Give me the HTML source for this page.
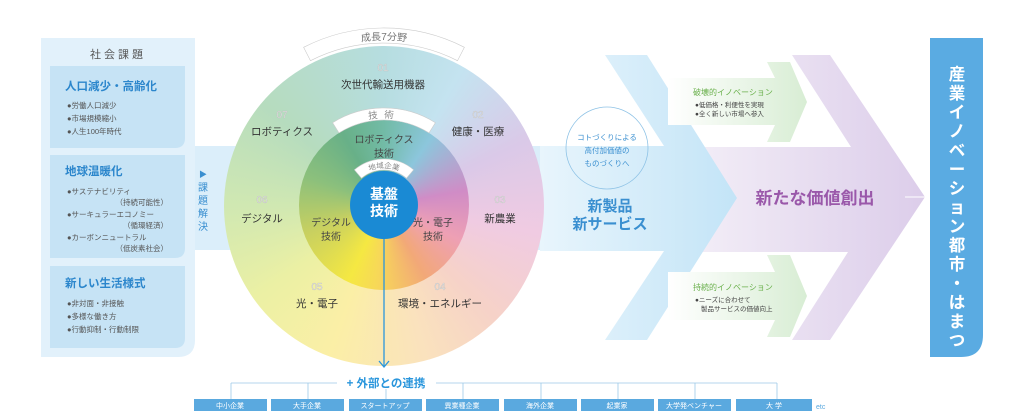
<!DOCTYPE html>
<html><head><meta charset="utf-8"><style>
html,body{margin:0;padding:0;background:#fff;width:1024px;height:419px;overflow:hidden}
body{position:relative;font-family:"Liberation Sans","Noto Sans CJK JP",sans-serif}
.abs{position:absolute}
.c1{left:224px;top:46px;width:320px;height:320px;border-radius:50%;
background:conic-gradient(from 0deg,#b6dde0 0deg,#c4e3f0 30deg,#dac9e8 65deg,#f0cbe2 100deg,#f6d2c8 135deg,#fae2bd 165deg,#fbefa6 200deg,#ebf0a4 235deg,#d0e8b2 270deg,#b6dcbe 310deg,#b6dde0 360deg)}
.c2{left:299px;top:120px;width:170px;height:170px;border-radius:50%;
background:conic-gradient(from 0deg,#72bba6 0deg,#8cc6dc 35deg,#d08cc6 80deg,#eea0b4 115deg,#f2a878 150deg,#f7d858 185deg,#f5e842 205deg,#c8d060 250deg,#8cc07c 290deg,#68b088 330deg,#72bba6 360deg)}
</style></head><body>
<svg class="abs" style="left:0;top:0" width="1024" height="419">
<defs>
<linearGradient id="gb" x1="0" x2="1"><stop offset="0" stop-color="#e8f5fc"/><stop offset="1" stop-color="#c3e4f7"/></linearGradient>
<linearGradient id="gp" gradientUnits="userSpaceOnUse" x1="690" x2="925" y1="0" y2="0"><stop offset="0" stop-color="#f3eef7"/><stop offset="1" stop-color="#dccdea"/></linearGradient>
<linearGradient id="gg" x1="0" x2="1"><stop offset="0" stop-color="#ffffff"/><stop offset="1" stop-color="#d8edd4"/></linearGradient>
</defs>
<path d="M41,38 H195 V340 Q195,357 178,357 H41 Z" fill="#e2f1fb"/>
<path d="M50,66 H185 V138 Q185,148 175,148 H50 Z" fill="#c6e3f5"/>
<path d="M50,155 H185 V248 Q185,258 175,258 H50 Z" fill="#c6e3f5"/>
<path d="M50,266 H185 V338 Q185,348 175,348 H50 Z" fill="#c6e3f5"/>
<rect x="195" y="146" width="475" height="104" fill="#dbeefa"/>
<path d="M690,147 H851 L792,55 H830 L925,197 L830,340 H792 L848,252 H690 Z" fill="url(#gp)"/>
<line x1="905" y1="197" x2="925" y2="197" stroke="#fff" stroke-width="1"/>
<path d="M540,146 H664 L605,55 H647 L737,198 L647,340 H605 L664,251 H540 Z" fill="url(#gb)"/>
<path d="M668,78 H775 L767,62 H790 L807,102 L790,142 H767 L775,125 H668 Z" fill="url(#gg)"/>
<path d="M668,272 H775 L767,255 H790 L807,296 L790,337 H767 L775,320 H668 Z" fill="url(#gg)"/>
<path d="M930,38 H983 V335 Q983,357 961,357 H930 Z" fill="#5aabe2"/>
<circle cx="607" cy="148" r="41" fill="none" stroke="#8fc3e6" stroke-width="0.8"/>
</svg>
<div class="abs c1"></div>
<div class="abs c2"></div>
<svg class="abs" style="left:0;top:0" width="1024" height="419" font-family="Liberation Sans, Noto Sans CJK JP, sans-serif">
<defs>
<path id="t1" d="M309.1,58 A165,165 0 0 1 458.9,58"/>
<path id="t2" d="M337.9,131.2 A87,87 0 0 1 430.1,131.2"/>
<path id="t3" d="M360.2,176.7 A37,37 0 0 1 407.8,176.7"/>
</defs>
<path d="M303.6,47.3 A177,177 0 0 1 464.4,47.3 L457.5,60.7 A162,162 0 0 0 310.5,60.7 Z" fill="#fff" stroke="#ccc" stroke-width="0.6"/>
<path d="M332.6,122.7 A97,97 0 0 1 435.4,122.7 L429,132.9 A85,85 0 0 0 339,132.9 Z" fill="#fff" stroke="#ccc" stroke-width="0.6"/>
<path d="M354.4,169.8 A46,46 0 0 1 413.6,169.8 L406.5,178.2 A35,35 0 0 0 361.5,178.2 Z" fill="#fff" stroke="#ccc" stroke-width="0.6"/>
<text font-size="10" fill="#777"><textPath href="#t1" startOffset="50%" text-anchor="middle">成長7分野</textPath></text>
<text font-size="9.5" fill="#888" letter-spacing="6"><textPath href="#t2" startOffset="50%" text-anchor="middle">技術</textPath></text>
<text font-size="7.5" fill="#888"><textPath href="#t3" startOffset="50%" text-anchor="middle">地域企業</textPath></text>
<circle cx="384" cy="205" r="34" fill="#1a8ad4"/>
<line x1="384" y1="239" x2="384" y2="366" stroke="#2a96dc" stroke-width="1.3"/>
<polyline points="379,361 384,367 389,361" fill="none" stroke="#2a96dc" stroke-width="1.3"/>
<g font-weight="bold" font-size="14" fill="#fff" text-anchor="middle"><text x="384" y="199">基盤</text><text x="384" y="216">技術</text></g>
<g font-size="10" fill="#e6e6e6" stroke="#bbb" stroke-width="0.3" text-anchor="middle">
<text x="383" y="71">01</text><text x="478" y="118">02</text><text x="500" y="203">03</text><text x="440" y="290">04</text><text x="317" y="290">05</text><text x="262" y="203">06</text><text x="282" y="118">07</text></g>
<g font-size="10.5" fill="#333" text-anchor="middle">
<text x="383" y="88">次世代輸送用機器</text><text x="478" y="135">健康・医療</text><text x="500" y="222">新農業</text>
<text x="440" y="307">環境・エネルギー</text><text x="317" y="307">光・電子</text><text x="262" y="222">デジタル</text><text x="282" y="135">ロボティクス</text></g>
<g font-size="10" fill="#444" text-anchor="middle">
<text x="384" y="143">ロボティクス</text><text x="384" y="157">技術</text>
<text x="331" y="226">デジタル</text><text x="331" y="240">技術</text>
<text x="433" y="226">光・電子</text><text x="433" y="240">技術</text></g>
<text x="118" y="58" font-size="11" fill="#555" text-anchor="middle" letter-spacing="3">社会課題</text>
<g font-size="11.5" font-weight="bold" fill="#2b86cc"><text x="65" y="90">人口減少・高齢化</text><text x="65" y="175">地球温暖化</text><text x="65" y="287">新しい生活様式</text></g>
<g font-size="7.5" fill="#555">
<text x="67" y="108">●労働人口減少</text><text x="67" y="121">●市場規模縮小</text><text x="67" y="134">●人生100年時代</text>
<text x="67" y="194">●サステナビリティ</text><text x="168" y="205" text-anchor="end">（持続可能性）</text>
<text x="67" y="217">●サーキュラーエコノミー</text><text x="168" y="228" text-anchor="end">（循環経済）</text>
<text x="67" y="240">●カーボンニュートラル</text><text x="168" y="251" text-anchor="end">（低炭素社会）</text>
<text x="67" y="306">●非対面・非接触</text><text x="67" y="319">●多様な働き方</text><text x="67" y="332">●行動抑制・行動制限</text></g>
<g font-size="10" fill="#3a8fd0" text-anchor="middle"><text x="203" y="177" font-size="8">▶</text><text x="203" y="191">課</text><text x="203" y="204">題</text><text x="203" y="217">解</text><text x="203" y="230">決</text></g>
<g font-size="7.5" fill="#3a8fd0" text-anchor="middle"><text x="607" y="140">コトづくりによる</text><text x="607" y="153">高付加価値の</text><text x="607" y="166">ものづくりへ</text></g>
<g font-size="15" font-weight="bold" fill="#3a8fd0" text-anchor="middle"><text x="610" y="211">新製品</text><text x="610" y="229">新サービス</text></g>
<text x="815" y="204" font-size="17" font-weight="bold" fill="#9a58aa" text-anchor="middle">新たな価値創出</text>
<g font-size="8" fill="#6ab04c"><text x="693" y="95">破壊的イノベーション</text><text x="693" y="290">持続的イノベーション</text></g>
<g font-size="6.5" fill="#444"><text x="695" y="107">●低価格・利便性を実現</text><text x="695" y="116">●全く新しい市場へ参入</text>
<text x="695" y="302">●ニーズに合わせて</text><text x="701" y="311">製品サービスの価値向上</text></g>
<g font-size="16.5" font-weight="bold" fill="#fff" text-anchor="middle">
<text x="957" y="80">産</text><text x="957" y="99">業</text><text x="957" y="118">イ</text><text x="957" y="137">ノ</text><text x="957" y="156">ベ</text><text x="957" y="175">ー</text><text x="957" y="194">シ</text><text x="957" y="213">ョ</text><text x="957" y="232">ン</text><text x="957" y="251">都</text><text x="957" y="270">市</text><text x="957" y="289">・</text><text x="957" y="308">は</text><text x="957" y="327">ま</text><text x="957" y="346">つ</text></g>
<text x="386" y="387" font-size="11.5" font-weight="bold" fill="#2a96dc" text-anchor="middle">+ 外部との連携</text>
<g stroke="#9cc9e8" stroke-width="0.8" fill="none">
<line x1="231" y1="383" x2="337" y2="383"/><line x1="436" y1="383" x2="777" y2="383"/>
<line x1="231" y1="383" x2="231" y2="399"/><line x1="308" y1="383" x2="308" y2="399"/><line x1="386" y1="389" x2="386" y2="399"/><line x1="463" y1="383" x2="463" y2="399"/>
<line x1="541" y1="383" x2="541" y2="399"/><line x1="618" y1="383" x2="618" y2="399"/><line x1="695" y1="383" x2="695" y2="399"/><line x1="777" y1="383" x2="777" y2="399"/></g>
<g fill="#5aa9df">
<rect x="194" y="399" width="73" height="12"/><rect x="271" y="399" width="73" height="12"/><rect x="349" y="399" width="73" height="12"/><rect x="426" y="399" width="73" height="12"/>
<rect x="504" y="399" width="73" height="12"/><rect x="581" y="399" width="73" height="12"/><rect x="658" y="399" width="73" height="12"/><rect x="736" y="399" width="76" height="12"/></g>
<g font-size="7" fill="#fff" text-anchor="middle">
<text x="230" y="408">中小企業</text><text x="307" y="408">大手企業</text><text x="385" y="408">スタートアップ</text><text x="462" y="408">異業種企業</text>
<text x="540" y="408">海外企業</text><text x="617" y="408">起業家</text><text x="694" y="408">大学発ベンチャー</text><text x="774" y="408">大 学</text></g>
<text x="816" y="409" font-size="7" fill="#5aa9df">etc</text>
</svg>
</body></html>
